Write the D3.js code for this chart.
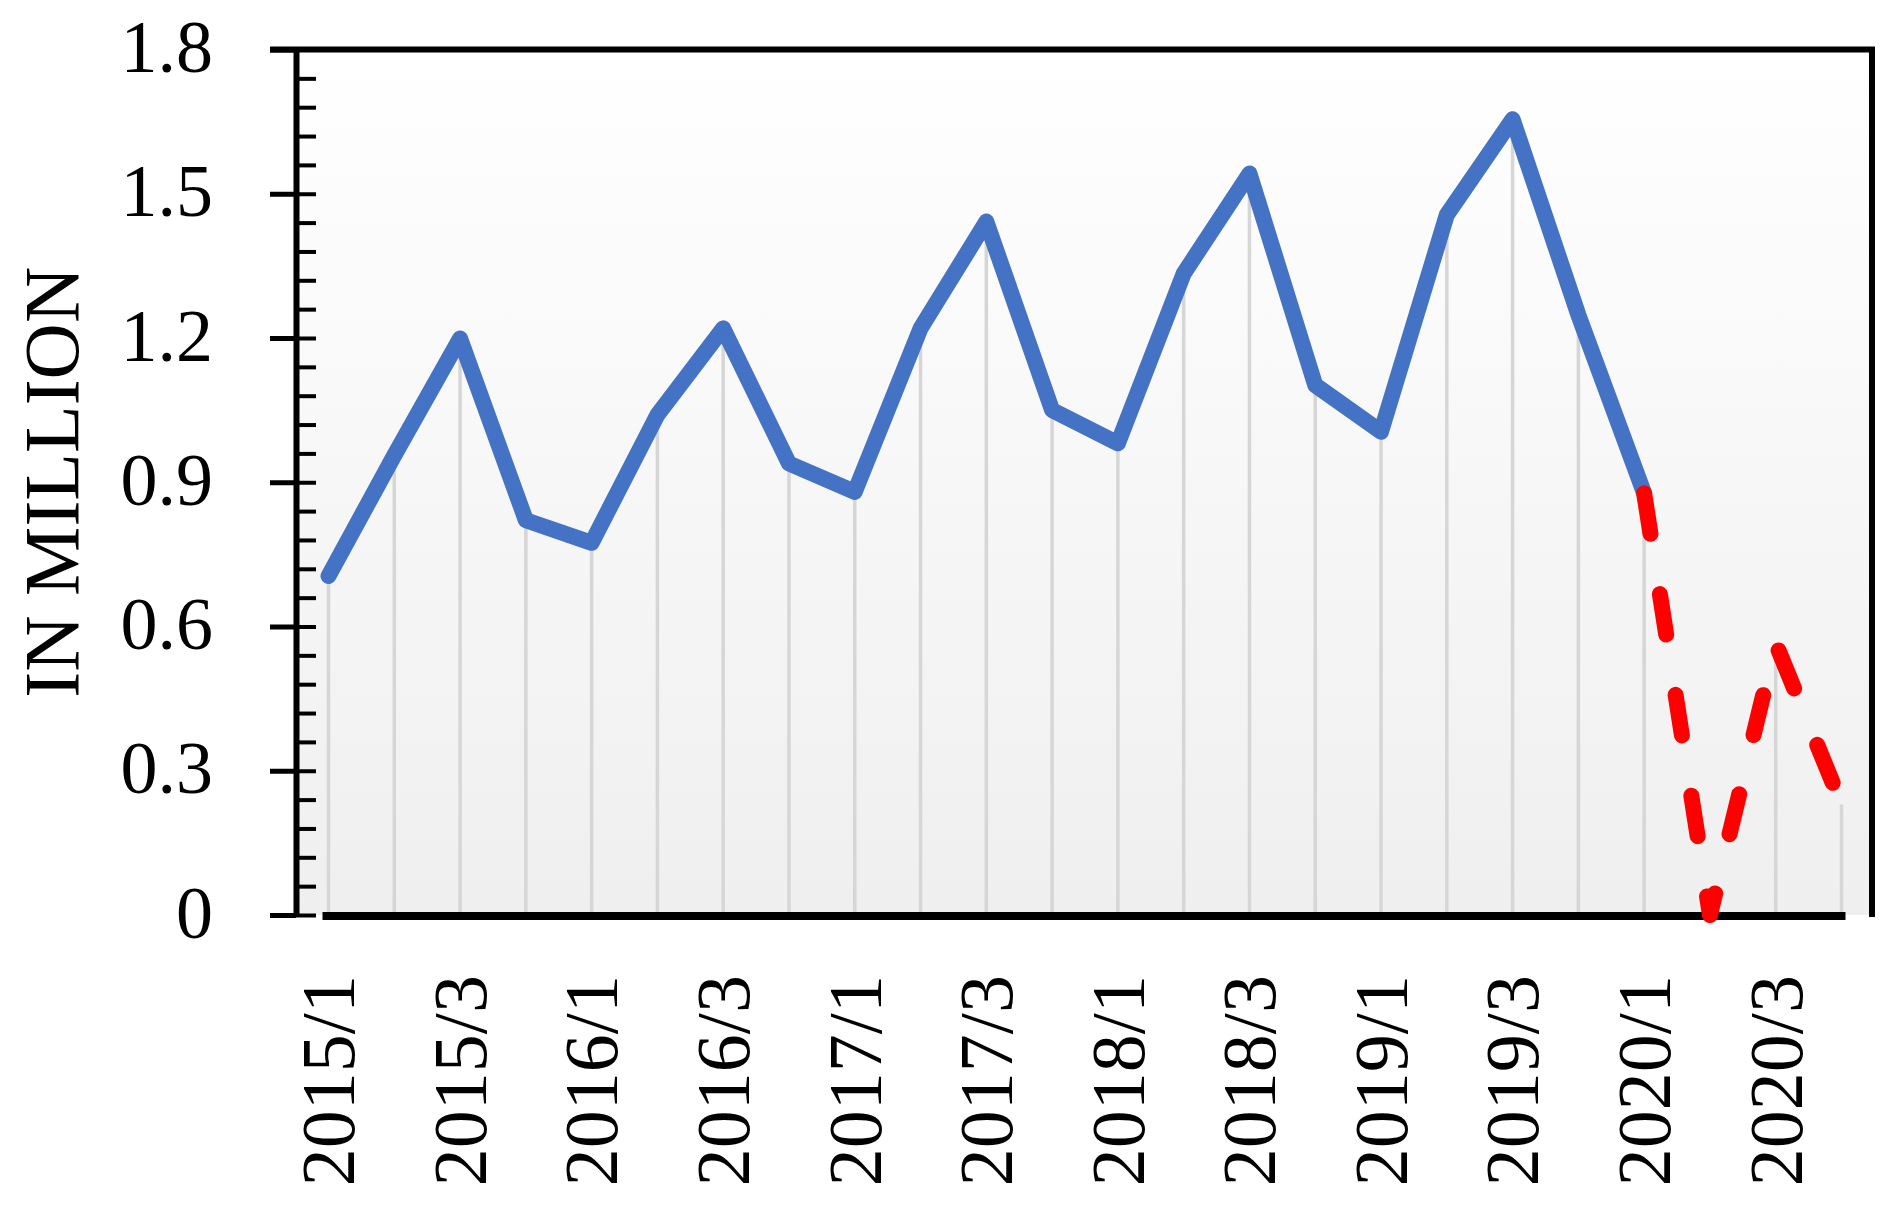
<html>
<head>
<script src="https://d3js.org/d3.v7.min.js"></script>
<style>
  body { margin: 0; background: #fff; }
  text { font-family: "Liberation Serif", "Times New Roman", serif; fill: #000; }
</style>
</head>
<body>
<svg id="chart" width="1888" height="1210"></svg>
<script>
const quarters = ["2015/1","2015/2","2015/3","2015/4","2016/1","2016/2","2016/3","2016/4",
  "2017/1","2017/2","2017/3","2017/4","2018/1","2018/2","2018/3","2018/4",
  "2019/1","2019/2","2019/3","2019/4","2020/1","2020/2","2020/3","2020/4"];
// actual passengers, 2015/1 .. 2020/1
const actual = [0.705,0.956,1.199,0.821,0.774,1.040,1.220,0.939,0.880,1.220,1.442,1.050,
  0.981,1.334,1.542,1.102,1.005,1.456,1.655,1.248,0.877];
// projected, 2020/1 .. 2020/4
const forecastQuarters = ["2020/1","2020/2","2020/3","2020/4"];
const forecast = [0.877,0.0,0.565,0.230];
const yTicks = [0,0.3,0.6,0.9,1.2,1.5,1.8];
const yMinorTicks = d3.range(0, 31).map(i => i * 0.06);
const xTickLabels = ["2015/1","2015/3","2016/1","2016/3","2017/1","2017/3",
  "2018/1","2018/3","2019/1","2019/3","2020/1","2020/3"];

const svg = d3.select("#chart");
const pL = 296, pR = 1872, pT = 49.5, pB = 915;

const x = d3.scalePoint().domain(quarters).range([328.5, 1841.5]);
const y = d3.scaleLinear().domain([0, 1.8]).range([pB, pT]);

// plot background gradient
const grad = svg.append("defs").append("linearGradient")
  .attr("id", "bg").attr("x1", 0).attr("y1", 0).attr("x2", 0).attr("y2", 1);
grad.append("stop").attr("offset", "0%").attr("stop-color", "#ffffff");
grad.append("stop").attr("offset", "100%").attr("stop-color", "#efefef");
svg.append("rect").attr("x", pL).attr("y", pT)
  .attr("width", pR - pL).attr("height", pB - pT)
  .attr("fill", "url(#bg)");

// drop lines
const pts = actual.map((v, i) => ({q: quarters[i], v: v}))
  .concat(forecast.slice(1).map((v, i) => ({q: forecastQuarters[i + 1], v: v})));
svg.append("g").selectAll("line").data(pts).enter().append("line")
  .attr("x1", d => x(d.q)).attr("x2", d => x(d.q))
  .attr("y1", d => y(d.v)).attr("y2", pB)
  .attr("stroke", "#d6d6d6").attr("stroke-width", 3.5);

// frame: top and right border
svg.append("path")
  .attr("d", `M270,${pT}H${pR}V917`)
  .attr("fill", "none").attr("stroke", "#000").attr("stroke-width", 6);

// y axis: minor ticks inside
svg.append("g").attr("transform", `translate(${pL},0)`)
  .call(d3.axisRight(y).tickValues(yMinorTicks).tickSizeInner(20).tickSizeOuter(0).tickFormat(""))
  .call(g => g.select(".domain").attr("stroke-width", 6))
  .call(g => g.selectAll(".tick line").attr("stroke-width", 4));

// y axis: major ticks and labels
svg.append("g").attr("transform", `translate(${pL},0)`)
  .call(d3.axisLeft(y).tickValues(yTicks).tickSizeInner(26).tickSizeOuter(0)
    .tickPadding(57).tickFormat(d => String(d)))
  .call(g => g.select(".domain").remove())
  .call(g => g.selectAll(".tick line").attr("stroke-width", 5))
  .call(g => g.selectAll(".tick text").attr("font-size", 74)
    .attr("font-family", "Liberation Serif").attr("dy", "0.3em"));

// x axis line
svg.append("line")
  .attr("x1", x(quarters[0]) - 6).attr("x2", x(quarters[quarters.length - 1]) + 4)
  .attr("y1", pB + 1).attr("y2", pB + 1)
  .attr("stroke", "#000").attr("stroke-width", 8);

// x tick labels
svg.append("g").selectAll("text").data(xTickLabels).enter().append("text")
  .attr("transform", d => `translate(${x(d)},975) rotate(-90)`)
  .attr("text-anchor", "end").attr("dy", "0.34em")
  .attr("font-size", 76)
  .text(d => d);

// y axis title
svg.append("text")
  .attr("transform", `translate(51,${(pT + pB) / 2}) rotate(-90)`)
  .attr("text-anchor", "middle").attr("dy", "0.35em")
  .attr("font-size", 78)
  .text("IN MILLION");

// lines
const line = d3.line().x(d => x(d.q)).y(d => y(d.v));
svg.append("path")
  .datum(actual.map((v, i) => ({q: quarters[i], v: v})))
  .attr("d", line)
  .attr("fill", "none").attr("stroke", "#4472c4").attr("stroke-width", 16)
  .attr("stroke-linejoin", "round").attr("stroke-linecap", "round");

svg.append("path")
  .datum(forecast.map((v, i) => ({q: forecastQuarters[i], v: v})))
  .attr("d", line)
  .attr("fill", "none").attr("stroke", "#ff0000").attr("stroke-width", 16)
  .attr("stroke-dasharray", "41,61")
  .attr("stroke-linejoin", "round").attr("stroke-linecap", "round");
</script>
</body>
</html>
